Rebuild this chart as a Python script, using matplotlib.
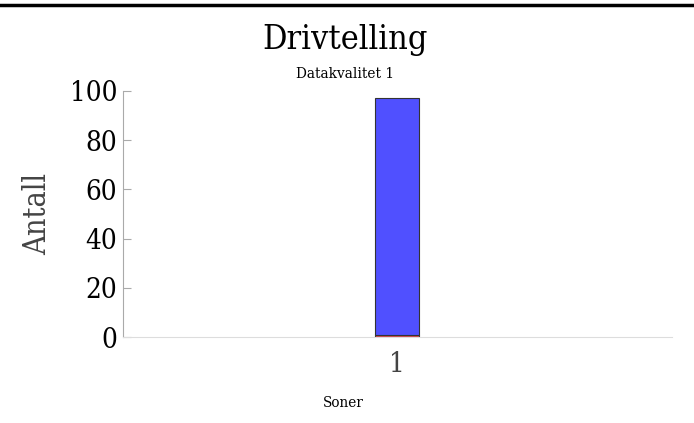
import matplotlib.pyplot as plt
from matplotlib.lines import Line2D

# data
soner = ["1"]
antall_rod = [1]
antall_bla = [96]
yticks = [0, 20, 40, 60, 80, 100]

plt.rcParams['font.family'] = ['DejaVu Serif']

fig = plt.figure(figsize=(6.94, 4.23), dpi=100)
ax = fig.add_axes([0.177, 0.203, 0.791, 0.582])

x = range(len(soner))
ax.bar(x, antall_rod, width=0.16, color='#e04848', edgecolor='#333333', linewidth=0.8)
ax.bar(x, antall_bla, width=0.16, bottom=antall_rod, color='#5050ff',
       edgecolor='#333333', linewidth=0.8)

ax.set_xlim(-1, 1)
ax.set_ylim(0, 100)
ax.set_xticks(list(x))
ax.set_xticklabels(soner, fontsize=20, color='#444444', fontstretch='condensed')
ax.set_yticks(yticks)
ax.set_yticklabels([str(v) for v in yticks], fontsize=20, fontstretch='condensed')
ax.tick_params(axis='y', direction='in', length=6, color='#aaaaaa', pad=4)
ax.tick_params(axis='x', direction='out', length=0, pad=10)

for s in ['top', 'right']:
    ax.spines[s].set_visible(False)
ax.spines['left'].set_color('#aaaaaa')
ax.spines['bottom'].set_color('#dddddd')
ax.spines['left'].set_linewidth(0.8)
ax.spines['bottom'].set_linewidth(0.8)

ax.set_ylabel('Antall', fontsize=22, color='#444444', fontstretch='condensed', labelpad=12)

fig.text(0.497, 0.905, 'Drivtelling', ha='center', va='center', fontsize=24.5,
         fontstretch='condensed')
fig.text(0.497, 0.826, 'Datakvalitet 1', ha='center', va='center', fontsize=11,
         fontstretch='condensed')
fig.text(0.494, 0.047, 'Soner', ha='center', va='center', fontsize=11,
         fontstretch='condensed')

fig.add_artist(Line2D([0, 1], [0.988, 0.988], transform=fig.transFigure,
                      color='black', linewidth=2.5))

fig.savefig('out.png', dpi=100)
